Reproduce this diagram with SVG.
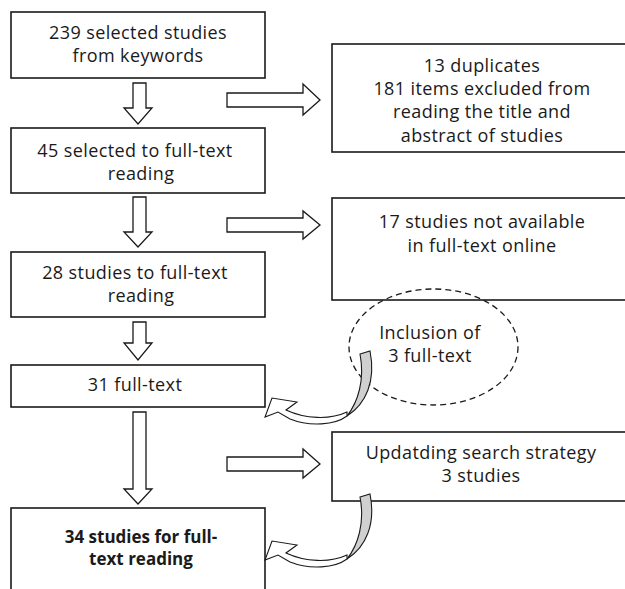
<svg xmlns="http://www.w3.org/2000/svg" width="625" height="589" viewBox="0 0 625 589">
<defs>
<style>
.box{fill:#fff;stroke:#1a1a1a;stroke-width:1.6}
.arr{fill:#fff;stroke:#1a1a1a;stroke-width:1.3;stroke-linejoin:miter}
.t{font-family:"Open Sans",Lato,sans-serif;font-size:18px;letter-spacing:0.4px;fill:#1a1a1a;text-anchor:middle}
.b{font-weight:bold;font-size:17px;letter-spacing:0}
.gray{fill:#d0d0d0;stroke:#1a1a1a;stroke-width:1.1}
.wa{fill:#fff;stroke:#1a1a1a;stroke-width:1.1}
</style>
<g id="curl">
<path class="gray" d="M360 354 L370 351 C376 381 366 404 347 416 C358 402 365 380 360 354 Z"/>
<path class="wa" d="M347 416 C335 425 310 427 290 419 L278 412 L265 417 L272 398 L297 402 L286 410 C305 419 330 420 347 412 Z"/>
</g>
</defs>
<g id="n1"><rect class="box" x="11" y="12" width="254" height="66"/>
<text class="t" x="138" y="39">239 selected studies</text><text class="t" x="138" y="62">from keywords</text></g>
<g id="n2"><rect class="box" x="11" y="128" width="254" height="65"/>
<text class="t" x="135" y="157">45 selected to full-text</text><text class="t" x="141" y="180">reading</text></g>
<g id="n3"><rect class="box" x="11" y="252" width="254" height="65"/>
<text class="t" x="135" y="279">28 studies to full-text</text><text class="t" x="141" y="302">reading</text></g>
<g id="n4"><rect class="box" x="11" y="365" width="254" height="42"/>
<text class="t" x="135" y="391">31 full-text</text></g>
<g id="n5"><rect class="box" x="11" y="508" width="254" height="100"/>
<text class="t b" x="141" y="543">34 studies for full-</text><text class="t b" x="141" y="565">text reading</text></g>
<g id="n6"><rect class="box" x="332" y="44" width="310" height="108"/>
<text class="t" x="482" y="72">13 duplicates</text><text class="t" x="482" y="95">181 items excluded from</text><text class="t" x="482" y="118">reading the title and</text><text class="t" x="482" y="142">abstract of studies</text></g>
<g id="n7"><rect class="box" x="332" y="198" width="310" height="102"/>
<text class="t" x="482" y="228">17 studies not available</text><text class="t" x="482" y="252">in full-text online</text></g>
<g id="n8"><ellipse cx="433.5" cy="347" rx="84.5" ry="58" fill="none" stroke="#1a1a1a" stroke-width="1.3" stroke-dasharray="6,4"/>
<text class="t" x="430" y="339">Inclusion of</text><text class="t" x="430" y="362">3 full-text</text></g>
<g id="n9"><rect class="box" x="332" y="432" width="310" height="69"/>
<text class="t" x="481" y="459">Updatding search strategy</text><text class="t" x="481" y="482">3 studies</text></g>
<g id="connectors">
<path class="arr" d="M133 83 H146 V108 H152 L138 124 L124 108 H133 Z"/>
<path class="arr" d="M133 197 H146 V232 H152 L138 247 L124 232 H133 Z"/>
<path class="arr" d="M133 322 H146 V343 H152 L138 360 L124 343 H133 Z"/>
<path class="arr" d="M133 412 H146 V489 H152 L138 504 L124 489 H133 Z"/>
<path class="arr" d="M227 93 H303 V84 L320 100 L303 115 V107 H227 Z"/>
<path class="arr" d="M227 218 H303 V211 L320 225 L303 239 V232 H227 Z"/>
<path class="arr" d="M227 457 H303 V449 L320 464 L303 478 V471 H227 Z"/>
<use href="#curl"/>
<use href="#curl" transform="translate(0,143)"/>
</g>
</svg>
